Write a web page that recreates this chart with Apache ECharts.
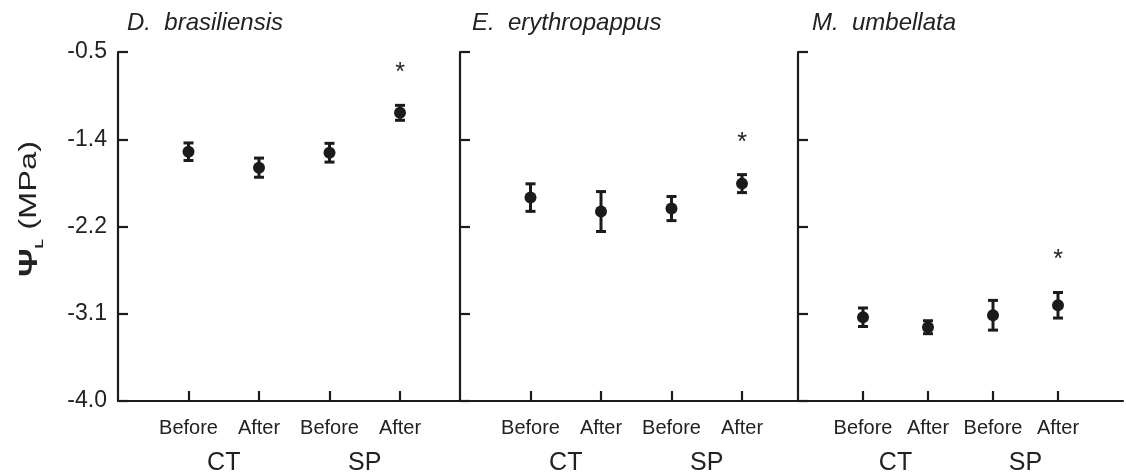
<!DOCTYPE html>
<html>
<head>
<meta charset="utf-8">
<script src="https://cdn.jsdelivr.net/npm/echarts@6/dist/echarts.min.js"></script>
<style>
  html, body { margin: 0; padding: 0; background: #fff; }
  #chart { width: 1126px; height: 476px; }
</style>
</head>
<body>
<div id="chart"></div>
<script>
// Leaf water potential (MPa), mean ± SE, before/after treatment in CT and SP plots
const species = ['D.  brasiliensis', 'E.  erythropappus', 'M.  umbellata'];
const periods = ['Before', 'After', 'Before', 'After'];
const treatments = ['CT', 'SP'];

const yTickValues = [-4.0, -3.125, -2.25, -1.375, -0.5];
const yTickLabels = ['-4.0', '-3.1', '-2.2', '-1.4', '-0.5'];

const meanDbras = [-1.50, -1.66, -1.51, -1.11];
const seDbras   = [0.088, 0.096, 0.094, 0.075];
const sigDbras  = [0, 0, 0, 1];

const meanEery = [-1.96, -2.10, -2.07, -1.82];
const seEery   = [0.138, 0.200, 0.121, 0.090];
const sigEery  = [0, 0, 0, 1];

const meanMumb = [-3.16, -3.26, -3.14, -3.04];
const seMumb   = [0.093, 0.065, 0.149, 0.128];
const sigMumb  = [0, 0, 0, 1];

const panels = [
  { mean: meanDbras, se: seDbras, sig: sigDbras },
  { mean: meanEery, se: seEery, sig: sigEery },
  { mean: meanMumb, se: seMumb, sig: sigMumb }
];

const INK = '#1b1b1b';
const TEXT = '#222';
const FONT = '"Liberation Sans", Arial, Helvetica, sans-serif';
const panelLeft = [118, 460, 798];
const titleLeft = [127, 472, 812];
const panelTop = 52;
const panelHeight = 352;
const panelWidth = 352.5;   // five category steps per panel

// category slots: empty ends so the four treatments sit inside the panel
const periodSlots = [''].concat(periods, ['']);
const groupSlots = ['', treatments[0], '', treatments[1], ''];

const chart = echarts.init(document.getElementById('chart'), null, { renderer: 'canvas' });

const grid = [], xAxis = [], yAxis = [], series = [], title = [];

panels.forEach((p, k) => {
  grid.push({ left: panelLeft[k], top: panelTop, width: panelWidth, height: panelHeight, containLabel: false });

  title.push({
    text: species[k],
    left: titleLeft[k],
    top: 11,
    padding: 0,
    textStyle: { fontFamily: FONT, fontSize: 24, fontStyle: 'italic', fontWeight: 'normal', color: TEXT }
  });

  // treatment period axis
  xAxis.push({
    gridIndex: k,
    type: 'category',
    data: periodSlots,
    boundaryGap: false,
    position: 'bottom',
    axisLine: { show: true, onZero: false, lineStyle: { color: INK, width: 2.2 } },
    axisTick: {
      show: true, inside: true, length: 10,
      interval: (i, v) => v !== '',
      lineStyle: { color: INK, width: 2.2 }
    },
    axisLabel: { interval: 0, margin: 17, fontFamily: FONT, fontSize: 20, color: TEXT },
    splitLine: { show: false }
  });
  // plot type axis (CT / SP)
  xAxis.push({
    gridIndex: k,
    type: 'category',
    data: groupSlots,
    boundaryGap: true,
    position: 'bottom',
    axisLine: { show: false },
    axisTick: { show: false },
    axisLabel: { interval: 0, margin: 50, fontFamily: FONT, fontSize: 25, color: TEXT },
    splitLine: { show: false }
  });

  yAxis.push({
    gridIndex: k,
    type: 'value',
    min: -4.0,
    max: -0.5,
    axisLine: { show: true, onZero: false, lineStyle: { color: INK, width: 2.2 } },
    axisTick: {
      show: true, inside: true, length: 10,
      customValues: yTickValues,
      lineStyle: { color: INK, width: 2.2 }
    },
    axisLabel: {
      show: k === 0,
      customValues: yTickValues,
      margin: 11,
      fontFamily: FONT, fontSize: 23, color: TEXT,
      formatter: (v) => {
        let best = 0;
        yTickValues.forEach((t, i) => { if (Math.abs(t - v) < Math.abs(yTickValues[best] - v)) best = i; });
        return yTickLabels[best];
      }
    },
    splitLine: { show: false }
  });

  series.push({
    type: 'custom',
    xAxisIndex: k * 2,
    yAxisIndex: k,
    clip: false,
    data: p.mean.map((m, i) => [i + 1, m, p.se[i], p.sig[i]]),
    renderItem: (params, api) => {
      const x = api.value(0), m = api.value(1), s = api.value(2), sig = api.value(3);
      const c = api.coord([x, m]);
      const hi = api.coord([x, m + s]);
      const lo = api.coord([x, m - s]);
      const capHalf = 5;
      const children = [
        { type: 'line', shape: { x1: c[0], y1: hi[1], x2: c[0], y2: lo[1] }, style: { stroke: INK, lineWidth: 3 } },
        { type: 'line', shape: { x1: c[0] - capHalf, y1: hi[1], x2: c[0] + capHalf, y2: hi[1] }, style: { stroke: INK, lineWidth: 3 } },
        { type: 'line', shape: { x1: c[0] - capHalf, y1: lo[1], x2: c[0] + capHalf, y2: lo[1] }, style: { stroke: INK, lineWidth: 3 } },
        { type: 'circle', shape: { cx: c[0], cy: c[1], r: 6 }, style: { fill: INK } }
      ];
      if (sig) {
        children.push({
          type: 'text',
          style: {
            text: '*', x: c[0], y: hi[1] - 32,
            align: 'center', verticalAlign: 'middle',
            font: '25px ' + FONT, fill: TEXT
          }
        });
      }
      return { type: 'group', children };
    }
  });
});

chart.setOption({
  backgroundColor: '#fff',
  animation: false,
  title,
  grid,
  xAxis,
  yAxis,
  series,
  graphic: [{
    type: 'text',
    x: 30,
    y: 209,
    rotation: Math.PI / 2,
    scaleX: 1.42,
    style: {
      text: '{psi|Ψ}{sub|L}{unit| (MPa)}',
      align: 'center',
      verticalAlign: 'middle',
      fill: TEXT,
      rich: {
        psi: { fontFamily: FONT, fontSize: 25, fontWeight: 'bold', lineHeight: 30, verticalAlign: 'middle', fill: TEXT },
        sub: { fontFamily: FONT, fontSize: 11, fontWeight: 'bold', lineHeight: 30, verticalAlign: 'bottom', fill: TEXT },
        unit: { fontFamily: FONT, fontSize: 23, lineHeight: 30, verticalAlign: 'middle', fill: TEXT }
      }
    }
  }]
});
</script>
</body>
</html>
